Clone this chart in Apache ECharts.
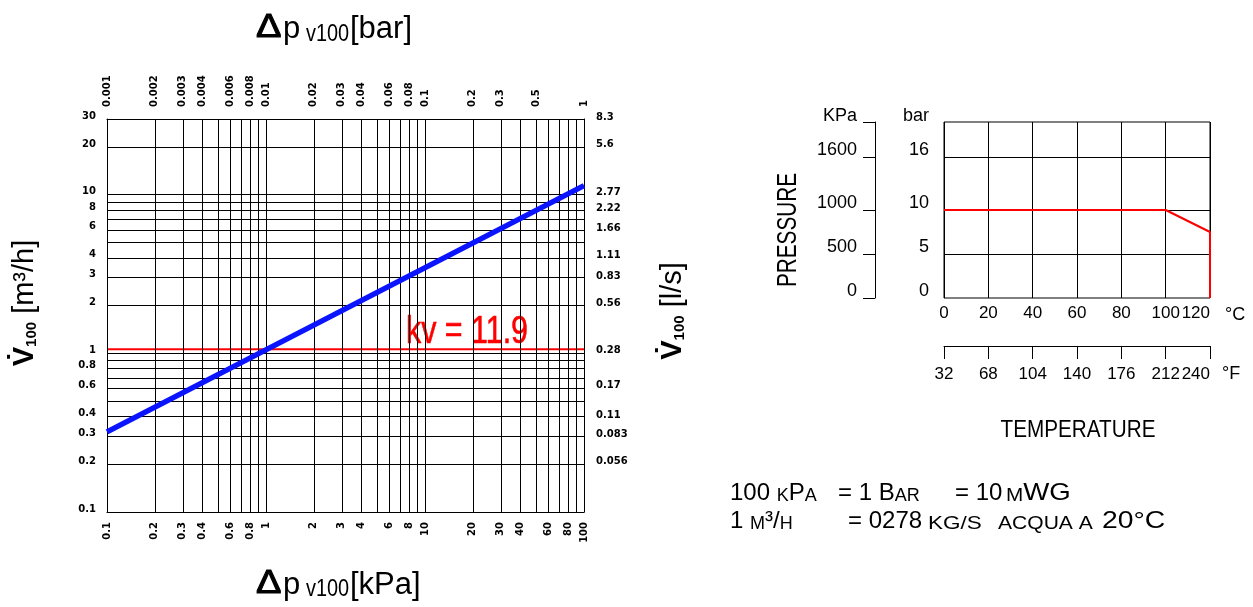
<!DOCTYPE html>
<html><head><meta charset="utf-8">
<script src="https://cdn.jsdelivr.net/npm/echarts@6/dist/echarts.min.js"></script>
<style>html,body{margin:0;padding:0;background:#fff}#c{width:1253px;height:607px}</style>
</head><body><div id="c"></div>
<script>
// ---------- data ----------
const kpaLabels = [0.1,0.2,0.3,0.4,0.6,0.8,1,2,3,4,6,8,10,20,30,40,60,80,100];
const barLabels = [0.001,0.002,0.003,0.004,0.006,0.008,0.01,0.02,0.03,0.04,0.06,0.08,0.1,0.2,0.3,0.5,1];
const flowLabels = [30,20,10,8,6,4,3,2,1,0.8,0.6,0.4,0.3,0.2,0.1];
const lpsLabels = ['8.3','5.6','2.77','2.22','1.66','1.11','0.83','0.56','0.28','0.17','0.11','0.083','0.056'];
const xGridKpa = [0.1,0.2,0.3,0.4,0.5,0.6,0.7,0.8,0.9,1,2,3,4,5,6,7,8,9,10,20,30,40,50,60,70,80,90,100];
const yGridFlow = [0.1,0.2,0.3,0.4,0.5,0.6,0.7,0.8,0.9,1,2,3,4,5,6,7,8,9,10,20,30];
const kvFlow = [[0.1,0.32],[100,11.4]];
const kvRefLine = [[0.1,1.06],[100,1.06]];

const tempF = ['32','68','104','140','176','212','240'];
const pressureCurve = [[0,10],[100,10],[120,7.5],[120,0]];
const barTicks = [0,5,10,16];
const barGrid = [5,10,16];
const kpaTicks = [0,500,1000,1600];
const kpaTickMarks = [0,500,1000,1600,2000];

// ---------- styles ----------
const tickFont = 'bold 10px "DejaVu Sans"';
const F = '"Liberation Sans", Arial, sans-serif';
const hidden = {axisTick:{show:false}, axisLabel:{show:false}, splitLine:{show:false}};
const blackLine = {show:true, lineStyle:{color:'#000', width:1}};

function txt(x, y, text, font, extra) {
  extra = extra || {};
  const st = Object.assign({text:text, font:font, fill:'#000', verticalAlign:'middle'}, extra.style || {});
  const el = Object.assign({type:'text', x:x, y:y, silent:true}, extra);
  el.style = st;
  return el;
}
const noteRich = {b:{font:'24px '+F, lineHeight:28, verticalAlign:'bottom'}, s:{font:'18px '+F, lineHeight:24, verticalAlign:'bottom'}};
function note(x, y, t, sx) {
  return {type:'text', x:x, y:y, scaleX:sx || 1, silent:true,
    style:{text:t, verticalAlign:'bottom', fill:'#000', rich:noteRich}};
}
const deltaStyle = {style:{stroke:'#000', lineWidth:1}};

const option = {
  animation:false,
  backgroundColor:'#fff',
  grid:[
    {left:107, top:119, width:477, height:393, show:false},
    {left:944, top:122, width:266, height:176, show:true, borderColor:'#000', borderWidth:1},
    {left:944, top:345, width:266, height:1, show:false}
  ],
  xAxis:[
    Object.assign({type:'log', gridIndex:0, min:0.1, max:100, position:'bottom', axisLine:blackLine}, hidden),
    Object.assign({type:'log', gridIndex:0, min:0.001, max:1, position:'top', axisLine:blackLine}, hidden),
    {type:'value', gridIndex:1, min:0, max:120, interval:20, axisLine:{show:false}, axisTick:{show:false},
     splitLine:{show:true, lineStyle:{color:'#000', width:1}},
     axisLabel:{fontFamily:'Liberation Sans', fontSize:17, color:'#000', margin:7, showMinLabel:true, showMaxLabel:true,
       alignMaxLabel:'right', hideOverlap:false}},
    {type:'category', gridIndex:2, data:tempF, boundaryGap:false, axisLine:{show:true, lineStyle:{color:'#000', width:1}},
     axisTick:{show:true, length:13, lineStyle:{color:'#000'}},
     axisLabel:{fontFamily:'Liberation Sans', fontSize:17, color:'#000', margin:20, interval:0, alignMaxLabel:'right', hideOverlap:false},
     splitLine:{show:false}}
  ],
  yAxis:[
    Object.assign({type:'log', gridIndex:0, min:0.1, max:30, position:'left', axisLine:blackLine}, hidden),
    Object.assign({type:'log', gridIndex:0, min:0.1/3.6, max:30/3.6, position:'right', axisLine:blackLine}, hidden),
    {type:'value', gridIndex:1, min:0, max:20, position:'left', axisLine:{show:false}, axisTick:{show:false}, splitLine:{show:false},
     axisLabel:{customValues:barTicks, formatter:v=>String(v), fontFamily:'Liberation Sans', fontSize:18, color:'#000', margin:15, verticalAlign:'bottom', lineHeight:14}},
    {type:'value', gridIndex:1, min:0, max:2000, position:'left', offset:69, axisLine:{show:true, lineStyle:{color:'#000', width:1}},
     axisTick:{show:true, length:12, customValues:kpaTickMarks, lineStyle:{color:'#000'}}, splitLine:{show:false},
     axisLabel:{customValues:kpaTicks, formatter:v=>String(v), fontFamily:'Liberation Sans', fontSize:18, color:'#000', margin:18, verticalAlign:'bottom', lineHeight:14}},
    {type:'value', gridIndex:2, show:false, min:0, max:1}
  ],
  series:[
    // grid lines of the flow diagram
    {type:'line', xAxisIndex:0, yAxisIndex:0, data:[[0.1,0.1]], showSymbol:false, lineStyle:{opacity:0}, z:1, silent:true,
     markLine:{silent:true, symbol:['none','none'], label:{show:false}, animation:false,
       lineStyle:{color:'#000', width:1, type:'solid'},
       data:[].concat(xGridKpa.map(v=>({xAxis:v})), yGridFlow.map(v=>({yAxis:v})))}},
    // red reference line
    {type:'line', xAxisIndex:0, yAxisIndex:0, data:kvRefLine, showSymbol:false, z:4, silent:true,
     lineStyle:{color:'#ff0000', width:2}},
    // kv line
    {type:'line', xAxisIndex:0, yAxisIndex:0, data:kvFlow, showSymbol:false, z:5, silent:true,
     lineStyle:{color:'#0a14ff', width:5.5}},
    // bottom labels (kPa)
    {type:'custom', xAxisIndex:0, yAxisIndex:0, data:kpaLabels.map(v=>[v,0.1]), z:6, silent:true,
     renderItem:(p, api)=>{const c=api.coord([api.value(0),api.value(1)]);
       return {type:'text', x:c[0], y:c[1]+10, rotation:Math.PI/2,
         style:{text:String(kpaLabels[p.dataIndex]), font:tickFont, fill:'#000', align:'right', verticalAlign:'middle'}};}},
    // top labels (bar)
    {type:'custom', xAxisIndex:1, yAxisIndex:0, data:barLabels.map(v=>[v,30]), z:6, silent:true,
     renderItem:(p, api)=>{const c=api.coord([api.value(0),api.value(1)]);
       return {type:'text', x:c[0], y:c[1]-12, rotation:Math.PI/2,
         style:{text:String(barLabels[p.dataIndex]), font:tickFont, fill:'#000', align:'left', verticalAlign:'middle'}};}},
    // left labels (m3/h)
    {type:'custom', xAxisIndex:0, yAxisIndex:0, data:flowLabels.map(v=>[0.1,v]), z:6, silent:true,
     renderItem:(p, api)=>{const c=api.coord([api.value(0),api.value(1)]);
       return {type:'text', x:c[0]-11, y:c[1]-3,
         style:{text:String(flowLabels[p.dataIndex]), font:tickFont, fill:'#000', align:'right', verticalAlign:'middle'}};}},
    // right labels (l/s)
    {type:'custom', xAxisIndex:0, yAxisIndex:1, data:lpsLabels.map(t=>[100,parseFloat(t)]), z:6, silent:true,
     renderItem:(p, api)=>{const c=api.coord([api.value(0),api.value(1)]);
       return {type:'text', x:c[0]+12, y:c[1]-2,
         style:{text:lpsLabels[p.dataIndex], font:tickFont, fill:'#000', align:'left', verticalAlign:'middle'}};}},
    // pressure / temperature curve
    {type:'line', xAxisIndex:2, yAxisIndex:2, data:pressureCurve, showSymbol:false, z:5, silent:true,
     lineStyle:{color:'#ff0000', width:2},
     markLine:{silent:true, symbol:['none','none'], label:{show:false}, animation:false, z:1,
       lineStyle:{color:'#000', width:1, type:'solid'}, data:barGrid.map(v=>({yAxis:v}))}}
  ],
  graphic:[
    // titles of the flow diagram
    txt(256, 28, 'Δ', '34px '+F, Object.assign({scaleX:1.12}, deltaStyle)),
    txt(283, 29, 'p', '31px '+F),
    txt(306, 34, 'v100', '24px '+F, {scaleX:0.83}),
    txt(350, 29, '[bar]', '31px '+F),
    txt(256, 584, 'Δ', '34px '+F, Object.assign({scaleX:1.12}, deltaStyle)),
    txt(283, 585, 'p', '31px '+F),
    txt(306, 589, 'v100', '24px '+F, {scaleX:0.83}),
    txt(350, 585, '[kPa]', '31px '+F),
    {type:'text', x:23, y:303, rotation:Math.PI/2, silent:true,
     style:{text:'{v|V\u0307}{s|100}{b| [m³/h]}', align:'center', verticalAlign:'middle', fill:'#000',
       rich:{v:{font:'bold 29px '+F, lineHeight:32, verticalAlign:'bottom'},
             s:{font:'bold 15px '+F, lineHeight:20, verticalAlign:'bottom'},
             b:{font:'29px '+F, lineHeight:32, verticalAlign:'bottom'}}}},
    {type:'text', x:671, y:311, rotation:Math.PI/2, silent:true,
     style:{text:'{v|V\u0307}{s|100}{b| [l/s]}', align:'center', verticalAlign:'middle', fill:'#000',
       rich:{v:{font:'bold 29px '+F, lineHeight:32, verticalAlign:'bottom'},
             s:{font:'bold 15px '+F, lineHeight:20, verticalAlign:'bottom'},
             b:{font:'29px '+F, lineHeight:32, verticalAlign:'bottom'}}}},
    txt(406, 332, 'kv = 11.9', '39px '+F, {scaleX:0.78, style:{fill:'#ff0000', stroke:'#ff0000', lineWidth:0.6}}),
    // pressure chart texts
    txt(788, 230, 'PRESSURE', '28px '+F, {rotation:Math.PI/2, scaleX:0.74, style:{align:'center'}}),
    txt(857, 116, 'KPa', '18px '+F, {style:{align:'right'}}),
    txt(903, 116, 'bar', '18px '+F),
    txt(1225, 315, '°C', '18px '+F),
    txt(1222, 374, '°F', '18px '+F),
    txt(1078, 431, 'TEMPERATURE', '23px '+F, {scaleX:0.9, style:{align:'center'}}),
    // unit notes
    note(730, 505.5, '{b|100 }{s|K}{b|P}{s|A}'),
    note(838, 505.5, '{b|= 1 B}{s|AR}'),
    note(955, 505.5, '{b|= 10}'),
    note(1006, 505.5, '{s|M}{b|WG}', 1.15),
    note(730, 533, '{b|1 }{s|M}{b|³/}{s|H}'),
    note(848, 533, '{b|= 0278}'),
    note(928, 533, '{s|KG/S}', 1.25),
    note(998, 533, '{s|ACQUA A}', 1.17),
    note(1102, 533, '{b|20°C}', 1.18)
  ]
};
const chart = echarts.init(document.getElementById('c'), null, {renderer:'canvas'});
chart.setOption(option);
</script></body></html>
